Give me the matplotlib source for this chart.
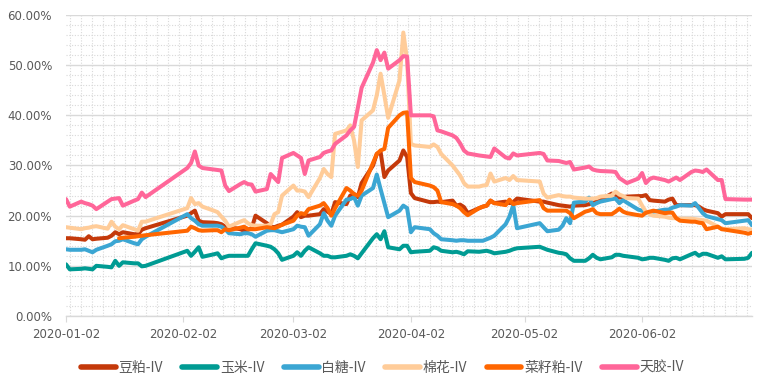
import numpy as np
import pandas as pd
import matplotlib
matplotlib.use("Agg")
import matplotlib.pyplot as plt
import matplotlib.dates as mdates
from matplotlib.ticker import MultipleLocator, FixedLocator, FuncFormatter

plt.rcParams['font.family'] = ['DejaVu Sans', 'Noto Sans CJK SC']

# ---------------- data ----------------
holidays = ['2020-01-24', '2020-01-27', '2020-01-28', '2020-01-29', '2020-01-30', '2020-01-31',
            '2020-04-06', '2020-05-01', '2020-05-04', '2020-05-05', '2020-06-25', '2020-06-26']
dates = [d for d in pd.bdate_range('2020-01-02', '2020-07-01') if d.strftime('%Y-%m-%d') not in holidays]

series_names = ['豆粕-IV', '玉米-IV', '白糖-IV', '棉花-IV', '菜籽粕-IV', '天胶-IV']
colors = ['#C4390A', '#009B93', '#3BA6D3', '#FFCC99', '#FF6600', '#FF6699']

soymeal = [15.5, 15.5, 15.3, 15.2, 15.9, 15.3, 15.4, 15.6, 16.0, 16.7, 16.3, 16.7, 16.3, 16.3, 17.2, 17.5,
           20.0, 20.5, 21.0, 19.0, 18.7, 18.6, 18.5, 18.3, 17.8, 17.7, 17.3, 17.0, 17.2, 17.5, 20.0, 18.5, 17.8, 17.7, 18.0, 18.2,
           19.8, 20.7, 19.7, 20.0, 20.0, 20.3, 21.3, 20.8, 20.3, 22.7, 22.3, 24.0, 24.3, 23.7, 26.5, 30.0, 32.3, 32.7, 27.7, 29.0, 31.0, 33.0,
           31.7, 24.5, 23.5, 22.7, 22.7, 22.8, 22.7, 23.0, 22.0, 22.2, 21.7, 20.5, 21.5, 21.8, 22.0, 23.0, 22.5, 22.8, 22.5, 22.7, 23.4,
           22.8, 22.8, 22.6, 22.1, 22.0, 21.9, 21.8, 22.0, 22.1, 22.3, 22.5, 22.8, 23.1, 24.4, 24.2, 23.6, 23.7, 23.8,
           23.9, 23.9, 24.1, 23.1, 23.0, 22.8, 23.2, 23.4, 22.1, 22.1, 22.1, 22.1, 21.8, 21.3, 21.0, 20.5, 19.8, 20.3, 20.3, 20.3,
           19.5]
corn = [10.3, 9.3, 9.4, 9.5, 9.4, 9.3, 10.0, 9.8, 9.7, 11.0, 10.0, 10.7, 10.5, 10.5, 9.9, 10.0,
        13.0, 12.0, 12.8, 13.7, 11.8, 12.3, 12.5, 11.5, 11.8, 12.0, 12.0, 12.0, 12.0, 13.3, 14.5, 14.0, 13.8, 13.3, 12.5, 11.2,
        12.0, 12.7, 12.0, 13.0, 13.7, 12.5, 12.0, 12.0, 11.7, 11.7, 12.0, 12.3, 12.0, 11.5, 12.5, 15.5, 16.3, 15.3, 16.9, 13.7, 13.3, 14.0,
        14.0, 12.7, 12.8, 13.0, 13.7, 13.5, 13.0, 12.7, 12.8, 12.6, 12.3, 12.9, 12.8, 12.9, 13.0, 12.8, 12.5, 12.8, 13.0, 13.3, 13.5,
        13.8, 13.5, 13.2, 12.6, 12.5, 12.3, 11.5, 11.0, 11.0, 11.5, 12.2, 11.6, 11.3, 11.7, 12.2, 12.2, 12.0, 11.9,
        11.6, 11.3, 11.4, 11.6, 11.6, 11.2, 11.0, 11.5, 11.6, 11.3, 12.3, 12.6, 12.0, 12.4, 12.4, 11.6, 11.9, 11.3, 11.4, 11.6,
        12.6]
sugar = [13.3, 13.2, 13.2, 13.3, 13.0, 12.7, 13.2, 14.0, 14.3, 14.9, 15.0, 15.3, 14.5, 14.3, 15.3, 15.8,
         20.3, 19.5, 19.0, 18.3, 18.0, 18.0, 18.0, 17.8, 17.3, 16.5, 16.3, 16.5, 16.5, 16.3, 15.8, 17.0, 17.1, 17.1, 16.9, 16.7,
         17.3, 18.0, 17.8, 17.7, 16.0, 18.3, 20.5, 19.0, 18.0, 20.0, 23.2, 23.3, 23.7, 22.0, 24.0, 25.5, 28.2, 25.3, 22.5, 19.7, 21.0, 22.0,
         21.5, 16.7, 17.7, 17.3, 16.5, 16.0, 15.3, 15.1, 15.0, 15.1, 15.1, 15.0, 15.0, 15.0, 15.3, 15.6, 16.0, 18.3, 19.8, 22.1, 17.5,
         18.5, 17.7, 16.9, 17.2, 18.0, 19.5, 18.5, 22.6, 22.8, 23.6, 22.1, 22.5, 22.8, 23.3, 23.4, 22.5, 23.1, 22.6,
         21.2, 21.0, 20.5, 20.6, 20.8, 21.2, 21.2, 21.6, 21.8, 22.1, 22.0, 22.5, 21.5, 20.5, 19.9, 19.3, 19.1, 18.5, 19.0, 19.1,
         18.1]
cotton = [17.7, 17.6, 17.3, 17.5, 17.6, 17.8, 17.9, 17.4, 18.8, 17.8, 17.3, 18.1, 17.3, 17.0, 18.8, 18.8,
          21.5, 23.5, 22.3, 22.5, 21.8, 21.0, 20.7, 19.8, 19.0, 17.8, 18.8, 19.1, 18.5, 18.1, 18.0, 18.0, 18.3, 20.3, 20.7, 24.0,
          26.0, 25.0, 25.0, 24.8, 23.7, 27.5, 29.3, 28.3, 27.7, 36.3, 37.0, 38.0, 35.0, 29.7, 39.0, 41.0, 44.0, 48.3, 44.0, 39.5, 47.0, 56.5,
          51.0, 34.3, 34.0, 33.7, 34.2, 33.7, 32.3, 30.0, 29.0, 28.0, 26.5, 25.8, 25.8, 26.0, 26.1, 28.4, 26.8, 27.5, 27.1, 27.9, 27.1,
          26.8, 24.4, 23.6, 24.1, 23.9, 23.8, 23.8, 23.6, 23.4, 23.4, 23.4, 23.5, 23.8, 24.0, 24.8, 24.2, 23.9, 23.5,
          23.4, 22.0, 20.8, 20.3, 20.0, 19.8, 19.6, 19.5, 19.5, 19.4, 19.4, 19.3, 19.2, 19.1, 19.0, 17.8, 17.4, 17.3, 17.5, 17.3,
          17.2]
rapeseed_meal = [np.nan] * 10 + [15.5, 15.6, 15.8, 15.9, 16.0, 16.1,
                 17.0, 17.8, 17.5, 17.1, 17.0, 17.1, 17.1, 16.7, 17.3, 17.1, 17.6, 17.8, 17.3, 17.3, 17.3, 17.7, 17.6, 17.5, 17.8, 18.2,
                 19.0, 20.0, 20.5, 20.3, 21.3, 22.0, 22.5, 21.5, 20.0, 21.5, 25.5, 25.0, 24.3, 24.0, 25.0, 30.5, 32.3, 33.0, 33.3, 37.5, 40.0, 40.5,
                 40.6, 27.5, 26.7, 26.0, 25.7, 25.0, 22.7, 22.3, 22.0, 21.5, 20.7, 20.1, 21.5, 21.8, 22.0, 23.0, 22.5, 22.1, 23.2, 22.3, 22.5,
                 23.1, 21.5, 21.0, 21.0, 21.0, 21.0, 20.5, 19.5, 20.8, 21.0, 21.3, 20.5, 20.3, 20.3, 20.8, 21.4, 20.8, 20.5,
                 20.1, 20.0, 20.6, 20.8, 21.0, 20.5, 20.6, 20.6, 19.5, 19.0, 18.8, 18.8, 18.6, 18.5, 17.3, 17.8, 17.3, 17.2, 16.6, 16.4,
                 16.6]
rubber = [23.3, 21.8, 22.8, 22.5, 22.3, 22.0, 21.3, 22.8, 23.3, 23.4, 23.5, 22.0, 23.0, 23.3, 24.6, 23.7,
          29.5, 30.5, 32.8, 30.0, 29.5, 29.2, 29.1, 29.0, 26.0, 24.9, 26.3, 26.7, 26.3, 26.2, 24.8, 25.3, 28.3, 27.5, 26.7, 31.5,
          32.5, 32.0, 31.5, 28.3, 31.0, 31.7, 32.5, 32.8, 33.0, 34.3, 36.0, 37.0, 37.7, 41.5, 45.5, 50.5, 53.0, 51.0, 52.5, 49.3, 51.0, 51.8,
          51.7, 40.0, 40.0, 40.0, 39.8, 37.0, 36.8, 36.0, 35.5, 34.4, 33.0, 32.4, 32.0, 31.9, 31.8, 31.7, 33.4, 31.6, 31.4, 32.4, 32.0,
          32.5, 32.3, 31.0, 30.9, 30.7, 30.5, 30.7, 29.2, 29.6, 29.8, 29.2, 29.0, 28.9, 28.8, 28.7, 27.5, 27.0, 26.5,
          27.4, 28.5, 26.5, 27.3, 27.6, 27.1, 26.8, 27.2, 27.6, 27.1, 28.7, 29.0, 28.9, 28.7, 29.2, 27.1, 27.1, 23.3, 23.2, 23.2,
          23.2]

x_tick_labels = ['2020-01-02', '2020-02-02', '2020-03-02', '2020-04-02', '2020-05-02', '2020-06-02']

all_series = [soymeal, corn, sugar, cotton, rapeseed_meal, rubber]
for s in all_series:
    assert len(s) == len(dates), (len(s), len(dates))

# ---------------- figure ----------------
fig = plt.figure(figsize=(7.65, 3.86), dpi=100)
ax = fig.add_axes([66 / 765, 1 - 316 / 386, (752 - 66) / 765, (316 - 15) / 386])

grid_c = '#D9D9D9'
for name, vals, c in zip(series_names, all_series, colors):
    ax.plot(dates, np.array(vals, dtype=float) / 100.0, color=c, lw=2.9, label=name,
            solid_joinstyle='round', solid_capstyle='round', zorder=3)

start = mdates.date2num(pd.Timestamp('2020-01-02'))
end = mdates.date2num(pd.Timestamp('2020-07-01'))
ax.set_xlim(start, end)
ax.set_ylim(0, 0.6)

ax.yaxis.set_major_locator(MultipleLocator(0.1))
ax.yaxis.set_minor_locator(MultipleLocator(0.02))
ax.yaxis.set_major_formatter(FuncFormatter(lambda v, p: f'{v * 100:.2f}%'))

ax.xaxis.set_major_locator(FixedLocator([mdates.date2num(pd.Timestamp(t)) for t in x_tick_labels]))
ax.xaxis.set_major_formatter(mdates.DateFormatter('%Y-%m-%d'))
ax.xaxis.set_minor_locator(FixedLocator(np.arange(start + 1.05, end, 2.88)))

ax.grid(which='major', axis='y', color=grid_c, lw=1.0, ls='-', zorder=1)
ax.grid(which='minor', axis='y', color=grid_c, lw=0.8, ls=(0, (1, 1.5)), zorder=1)
ax.grid(which='minor', axis='x', color=grid_c, lw=0.8, ls=(0, (1, 1.5)), zorder=1)
ax.set_axisbelow(True)

for side in ['top', 'right', 'left']:
    ax.spines[side].set_visible(False)
ax.spines['bottom'].set_color(grid_c)
ax.spines['bottom'].set_linewidth(1.0)

ax.tick_params(axis='y', which='both', length=0, pad=10, labelsize=8.5, labelcolor='#595959')
ax.tick_params(axis='x', which='major', length=4, color=grid_c, pad=5, labelsize=8.5, labelcolor='#595959')
ax.tick_params(axis='x', which='minor', length=0)

leg = fig.legend(loc='center', bbox_to_anchor=(0.5, 1 - 368 / 386), ncol=6, frameon=False,
                 handlelength=2.5, handletextpad=0.2, columnspacing=1.4,
                 prop={'family': ['Noto Sans CJK SC', 'DejaVu Sans'], 'size': 10})
for t in leg.get_texts():
    t.set_color('#595959')
for h in leg.get_lines():
    h.set_linewidth(4)

fig.savefig('out.png', dpi=100)
